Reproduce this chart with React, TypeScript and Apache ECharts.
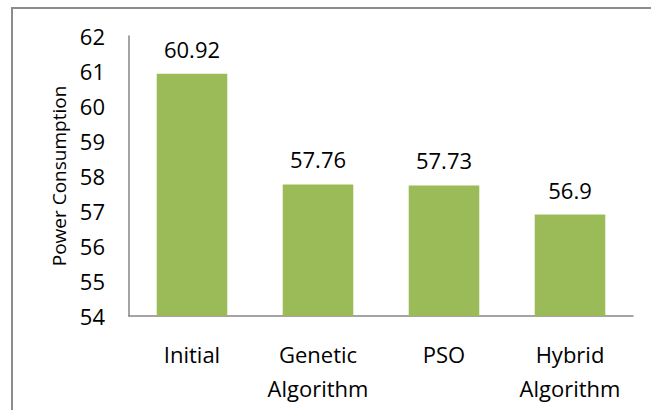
import React, { useEffect, useRef } from "react";
import * as echarts from "echarts";

const categories = ["Initial", "Genetic\nAlgorithm", "PSO", "Hybrid\nAlgorithm"];
const powerValues = [60.92, 57.76, 57.73, 56.9];
const yMin = 54;
const yMax = 62;

export default function App() {
  const ref = useRef<HTMLDivElement>(null);
  useEffect(() => {
    if (!ref.current) return;
    const chart = echarts.init(ref.current, null, { renderer: "svg" });
    const font = "'Open Sans', 'Noto Sans', sans-serif";
    chart.setOption({
      animation: false,
      backgroundColor: "#ffffff",
      graphic: [
        {
          type: "rect",
          shape: { x: 12, y: 8, width: 700, height: 500 },
          style: { fill: "none", stroke: "#8c8c8c", lineWidth: 2 },
          silent: true,
        },
      ],
      grid: { left: 129, top: 36, right: 18, bottom: 94 },
      xAxis: {
        type: "category",
        data: categories,
        axisLine: { lineStyle: { color: "#868686", width: 1.5 } },
        axisTick: { show: false },
        axisLabel: {
          color: "#000",
          fontSize: 22,
          fontFamily: font,
          margin: 21,
          lineHeight: 34,
          interval: 0,
        },
      },
      yAxis: {
        type: "value",
        min: yMin,
        max: yMax,
        interval: 1,
        name: "Power Consumption",
        nameLocation: "middle",
        nameGap: 60,
        nameTextStyle: { color: "#000", fontSize: 19, fontFamily: font },
        axisLine: { show: true, lineStyle: { color: "#868686", width: 1.5 } },
        axisTick: { show: false },
        splitLine: { show: false },
        axisLabel: { color: "#000", fontSize: 22, fontFamily: font, margin: 24 },
      },
      series: [
        {
          type: "bar",
          data: powerValues,
          barWidth: "56%",
          itemStyle: { color: "#9bbb59" },
          label: {
            show: true,
            position: "top",
            distance: 14,
            color: "#000",
            fontSize: 22,
            fontFamily: font,
          },
        },
      ],
    });
    return () => chart.dispose();
  }, []);
  return (
    <div
      ref={ref}
      style={{ position: "fixed", left: 0, top: 0, width: 651, height: 410 }}
    />
  );
}
